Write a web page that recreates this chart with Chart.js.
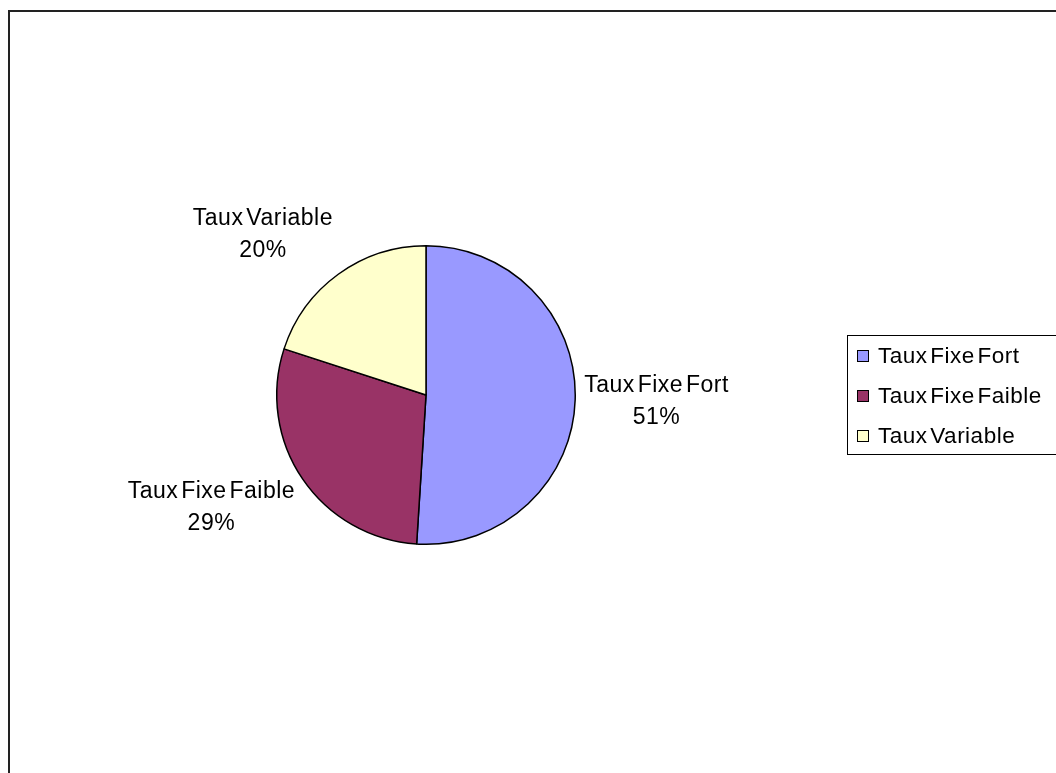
<!DOCTYPE html>
<html>
<head>
<meta charset="utf-8">
<script src="https://cdn.jsdelivr.net/npm/chart.js@4/dist/chart.umd.min.js"></script>
<style>
  html, body { margin: 0; padding: 0; background: #fff; overflow: hidden; }
  #frame { position: absolute; left: 8px; top: 10px; width: 1200px; height: 900px; border: 2px solid #222; box-sizing: border-box; }
  #c { position: absolute; left: 0; top: 0; }
  #legend { position: absolute; left: 847px; top: 335px; width: 260px; height: 120px; border: 1px solid #000; box-sizing: border-box;
            font-family: "Liberation Sans", Arial, sans-serif; font-size: 22.5px; color: #000; letter-spacing: 0.5px; word-spacing: -4px; }
  .item { position: absolute; left: 9px; height: 26px; display: flex; align-items: center; }
  .sw { width: 10px; height: 10px; border: 1.5px solid #000; margin-right: 9px; }
</style>
</head>
<body>
<div id="frame"></div>
<canvas id="c" width="1056" height="773"></canvas>
<div id="legend"></div>
<script>
const categories = ["Taux Fixe Fort", "Taux Fixe Faible", "Taux Variable"];
const values = [51, 29, 20];
const percentLabels = ["51%", "29%", "20%"];
const colors = ["#9999FF", "#993366", "#FFFFCC"];

// HTML legend built from the arrays
const legend = document.getElementById('legend');
categories.forEach((cat, i) => {
  const it = document.createElement('div');
  it.className = 'item';
  it.style.top = (7 + i * 40) + 'px';
  const sw = document.createElement('span');
  sw.className = 'sw';
  sw.style.background = colors[i];
  const tx = document.createElement('span');
  tx.textContent = cat;
  it.appendChild(sw); it.appendChild(tx);
  legend.appendChild(it);
});

const outsideLabels = {
  id: 'outsideLabels',
  afterDatasetsDraw(chart) {
    const ctx = chart.ctx;
    const meta = chart.getDatasetMeta(0);
    ctx.save();
    ctx.font = '23px "Liberation Sans", Arial, sans-serif';
    try { ctx.letterSpacing = '0.5px'; ctx.wordSpacing = '-4px'; } catch (e) {}
    ctx.fillStyle = '#000';
    ctx.textAlign = 'center';
    ctx.textBaseline = 'middle';
    const lineH = 32;
    meta.data.forEach((arc, i) => {
      const p = arc.getProps(['x', 'y', 'startAngle', 'endAngle', 'outerRadius'], true);
      const mid = (p.startAngle + p.endAngle) / 2;
      const ux = Math.cos(mid), uy = Math.sin(mid);
      const r = p.outerRadius + 9;
      const px = p.x + ux * r, py = p.y + uy * r;
      const lines = [categories[i], percentLabels[i]];
      const w = Math.max(...lines.map(l => ctx.measureText(l).width));
      const h = lineH * 2;
      const cx = px + Math.sign(ux) * w / 2;
      const fy = Math.max(-1, Math.min(1, uy * 1.3));
      const cy = py + fy * h / 2;
      ctx.fillText(lines[0], cx, cy - lineH / 2);
      ctx.fillText(lines[1], cx, cy + lineH / 2);
    });
    ctx.restore();
  }
};

new Chart(document.getElementById('c'), {
  type: 'pie',
  data: {
    labels: categories,
    datasets: [{
      data: values,
      backgroundColor: colors,
      borderColor: '#000',
      borderWidth: 1.5,
      hoverOffset: 0
    }]
  },
  options: {
    responsive: false,
    animation: false,
    events: [],
    layout: { padding: { left: 276, right: 480, top: 245, bottom: 228 } },
    plugins: { legend: { display: false }, tooltip: { enabled: false } }
  },
  plugins: [outsideLabels]
});
</script>
</body>
</html>
